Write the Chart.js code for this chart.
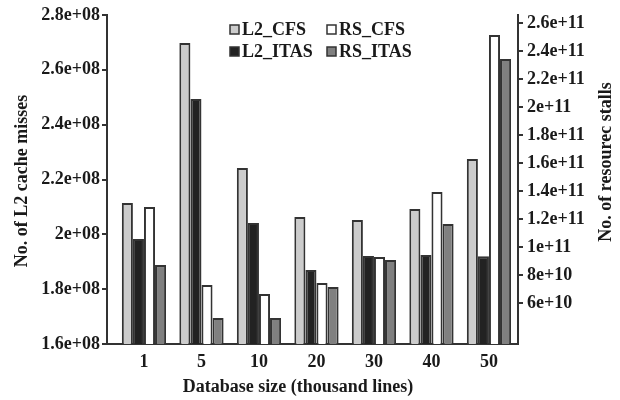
<!DOCTYPE html>
<html>
<head>
<meta charset="utf-8">
<script src="https://cdn.jsdelivr.net/npm/chart.js@4"></script>
<style>
  body { margin: 0; background: #fff; }
  canvas { display: block; }
</style>
</head>
<body>
<canvas id="chart" width="620" height="400"></canvas>
<script>
const categories = ["1", "5", "10", "20", "30", "40", "50"];

// L2 cache misses (left axis)
const l2Cfs = [2.114e8, 2.698e8, 2.242e8, 2.063e8, 2.052e8, 2.092e8, 2.275e8];
const l2Itas = [1.983e8, 2.494e8, 2.041e8, 1.870e8, 1.921e8, 1.925e8, 1.920e8];

// resource stalls (right axis)
const rsCfs = [1.286e11, 7.29e10, 6.64e10, 7.43e10, 9.29e10, 1.393e11, 2.514e11];
const rsItas = [8.71e10, 4.93e10, 4.93e10, 7.14e10, 9.07e10, 1.164e11, 2.343e11];

const leftTicks = [1.6e8, 1.8e8, 2e8, 2.2e8, 2.4e8, 2.6e8, 2.8e8];
const leftTickLabels = ["1.6e+08", "1.8e+08", "2e+08", "2.2e+08", "2.4e+08", "2.6e+08", "2.8e+08"];
const rightTicks = [6e10, 8e10, 1e11, 1.2e11, 1.4e11, 1.6e11, 1.8e11, 2e11, 2.2e11, 2.4e11, 2.6e11];
const rightTickLabels = ["6e+10", "8e+10", "1e+11", "1.2e+11", "1.4e+11", "1.6e+11", "1.8e+11", "2e+11", "2.2e+11", "2.4e+11", "2.6e+11"];

const FONT = "Liberation Serif, Times New Roman, serif";
const INK = "#1a1a1a";
const TEXT = "bold 18px " + FONT;

const toPoints = (arr) => arr.map((v, i) => ({ x: i, y: v }));

// legend inside the plot + axis titles
const decorations = {
  id: "decorations",
  afterDraw(chart) {
    const ctx = chart.ctx;
    const ds = chart.data.datasets;
    const spots = [
      { i: 0, x: 230, y: 29 },
      { i: 1, x: 230, y: 51 },
      { i: 2, x: 327, y: 29 },
      { i: 3, x: 327, y: 51 },
    ];
    ctx.save();
    ctx.font = TEXT;
    ctx.textBaseline = "middle";
    spots.forEach((s) => {
      const d = ds[s.i];
      ctx.fillStyle = d.backgroundColor;
      ctx.fillRect(s.x, s.y - 4, 9, 9);
      ctx.strokeStyle = "#333";
      ctx.lineWidth = 1.5;
      ctx.strokeRect(s.x, s.y - 4, 9, 9);
      ctx.fillStyle = INK;
      ctx.textAlign = "left";
      ctx.fillText(d.label, s.x + 12, s.y + 1);
    });

    ctx.textAlign = "center";
    ctx.fillText("Database size (thousand lines)", 298, 387);

    ctx.translate(22, 181);
    ctx.rotate(-Math.PI / 2);
    ctx.fillText("No. of L2 cache misses", 0, 0);
    ctx.restore();

    ctx.save();
    ctx.font = TEXT;
    ctx.fillStyle = INK;
    ctx.textAlign = "center";
    ctx.textBaseline = "middle";
    ctx.translate(606, 162);
    ctx.rotate(-Math.PI / 2);
    ctx.fillText("No. of resourec stalls", 0, 0);
    ctx.restore();
  },
};

new Chart(document.getElementById("chart"), {
  type: "bar",
  data: {
    datasets: [
      { label: "L2_CFS", data: toPoints(l2Cfs), yAxisID: "y", backgroundColor: "#cccccc" },
      { label: "L2_ITAS", data: toPoints(l2Itas), yAxisID: "y", backgroundColor: "#222222" },
      { label: "RS_CFS", data: toPoints(rsCfs), yAxisID: "y2", backgroundColor: "#ffffff" },
      { label: "RS_ITAS", data: toPoints(rsItas), yAxisID: "y2", backgroundColor: "#808080" },
    ],
  },
  options: {
    responsive: false,
    animation: false,
    layout: { padding: { top: 15, left: 0, right: 0, bottom: 0 } },
    datasets: {
      bar: {
        borderColor: "#333",
        borderWidth: 2,
        barPercentage: 1,
        categoryPercentage: 0.77,
      },
    },
    plugins: {
      legend: { display: false },
      tooltip: { enabled: false },
    },
    scales: {
      x: {
        type: "linear",
        offset: false,
        min: -0.643,
        max: 6.505,
        afterBuildTicks: (scale) => {
          scale.ticks = categories.map((_, i) => ({ value: i }));
        },
        afterFit: (scale) => { scale.height = 56; },
        grid: { display: false, drawTicks: false },
        border: { display: true, color: "#333", width: 2 },
        ticks: {
          padding: 8,
          color: INK,
          font: { family: FONT, size: 18, weight: "bold" },
          callback: (v, i) => categories[i],
        },
      },
      y: {
        position: "left",
        min: 1.6e8,
        max: 2.8e8,
        afterBuildTicks: (scale) => {
          scale.ticks = leftTicks.map((v) => ({ value: v }));
        },
        afterFit: (scale) => { scale.width = 107; },
        grid: { drawOnChartArea: false, drawTicks: true, tickLength: 5, color: "#333", lineWidth: 2 },
        border: { color: "#333", width: 2 },
        ticks: {
          padding: 2,
          color: INK,
          font: { family: FONT, size: 18, weight: "bold" },
          callback: (v, i) => leftTickLabels[i],
        },
      },
      y2: {
        position: "right",
        min: 3.07e10,
        max: 2.657e11,
        afterBuildTicks: (scale) => {
          scale.ticks = rightTicks.map((v) => ({ value: v }));
        },
        afterFit: (scale) => { scale.width = 102; },
        grid: { drawOnChartArea: false, drawTicks: true, tickLength: 5, color: "#333", lineWidth: 2 },
        border: { color: "#333", width: 2 },
        ticks: {
          padding: 4,
          color: INK,
          font: { family: FONT, size: 18, weight: "bold" },
          callback: (v, i) => rightTickLabels[i],
        },
      },
    },
  },
  plugins: [decorations],
});
</script>
</body>
</html>
